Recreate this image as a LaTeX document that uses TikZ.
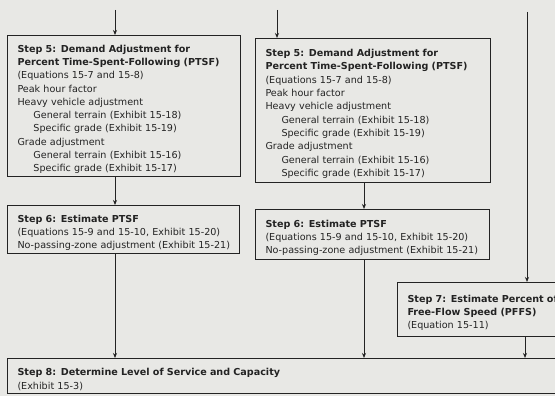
\documentclass[tikz,border=0pt]{standalone}
\usepackage{fontspec}
\setmainfont{DejaVu Sans}
\usetikzlibrary{arrows.meta}
\definecolor{paper}{RGB}{232,232,229}
\definecolor{ink}{RGB}{35,35,35}
\begin{document}
\begin{tikzpicture}[x=1pt,y=-1pt,
  box/.style={draw=ink, line width=1pt, anchor=north west, align=left,
    inner xsep=10pt, inner ysep=0pt, font=\fontsize{9.6}{13.3}\selectfont, text=ink},
  arr/.style={draw=ink, line width=1pt, -{Stealth[length=5pt,width=4pt]}}]
\fill[paper] (0,0) rectangle (555,396);
\useasboundingbox (0,0) rectangle (555,396);
\clip (0,0) rectangle (555,396);
\newcommand{\ind}{\hspace*{16pt}}
\newcommand{\st}{\rule{0pt}{14pt}}
\node[box, minimum width=233pt, minimum height=141pt, text width=213pt] (s5a) at (7,35)
 {\st\textbf{Step 5: Demand Adjustment for}\\
  \textbf{Percent Time-Spent-Following (PTSF)}\\
  (Equations 15-7 and 15-8)\\
  Peak hour factor\\
  Heavy vehicle adjustment\\
  \ind General terrain (Exhibit 15-18)\\
  \ind Specific grade (Exhibit 15-19)\\
  Grade adjustment\\
  \ind General terrain (Exhibit 15-16)\\
  \ind Specific grade (Exhibit 15-17)};
\node[box, minimum width=235pt, minimum height=144pt, text width=215pt] (s5b) at (255,38)
 {\st\textbf{Step 5: Demand Adjustment for}\\
  \textbf{Percent Time-Spent-Following (PTSF)}\\
  (Equations 15-7 and 15-8)\\
  Peak hour factor\\
  Heavy vehicle adjustment\\
  \ind General terrain (Exhibit 15-18)\\
  \ind Specific grade (Exhibit 15-19)\\
  Grade adjustment\\
  \ind General terrain (Exhibit 15-16)\\
  \ind Specific grade (Exhibit 15-17)};
\node[box, minimum width=232pt, minimum height=48pt, text width=212pt] (s6a) at (7,205)
 {\st\textbf{Step 6: Estimate PTSF}\\
  \mbox{(Equations 15-9 and 15-10, Exhibit 15-20)}\\
  \mbox{No-passing-zone adjustment (Exhibit 15-21)}};
\node[box, minimum width=234pt, minimum height=50pt, text width=214pt] (s6b) at (255,209)
 {\st\textbf{Step 6: Estimate PTSF}\\
  \mbox{(Equations 15-9 and 15-10, Exhibit 15-20)}\\
  \mbox{No-passing-zone adjustment (Exhibit 15-21)}};
\node[box, minimum width=190pt, minimum height=54pt, text width=170pt] (s7) at (397,282)
 {\st\textbf{Step 7: Estimate Percent of}\\
  \textbf{Free-Flow Speed (PFFS)}\\
  (Equation 15-11)};
\node[box, minimum width=570pt, minimum height=35pt, text width=550pt] (s8) at (7,358)
 {\st\textbf{Step 8: Determine Level of Service and Capacity}\\
  (Exhibit 15-3)};
\coordinate (in1) at (115,10);
\coordinate (in2) at (277,10);
\coordinate (in3) at (527,12);
\coordinate (xb) at (364,0);
\coordinate (x7) at (525,0);
\draw[arr] (in1) -- (in1 |- s5a.north);
\draw[arr] (in2) -- (in2 |- s5b.north);
\draw[arr] (in3) -- (in3 |- s7.north);
\draw[arr] (s5a.south -| in1) -- (s6a.north -| in1);
\draw[arr] (s5b.south -| xb) -- (s6b.north -| xb);
\draw[arr] (s6a.south -| in1) -- (s8.north -| in1);
\draw[arr] (s6b.south -| xb) -- (s8.north -| xb);
\draw[arr] (s7.south -| x7) -- (s8.north -| x7);
\end{tikzpicture}
\end{document}
